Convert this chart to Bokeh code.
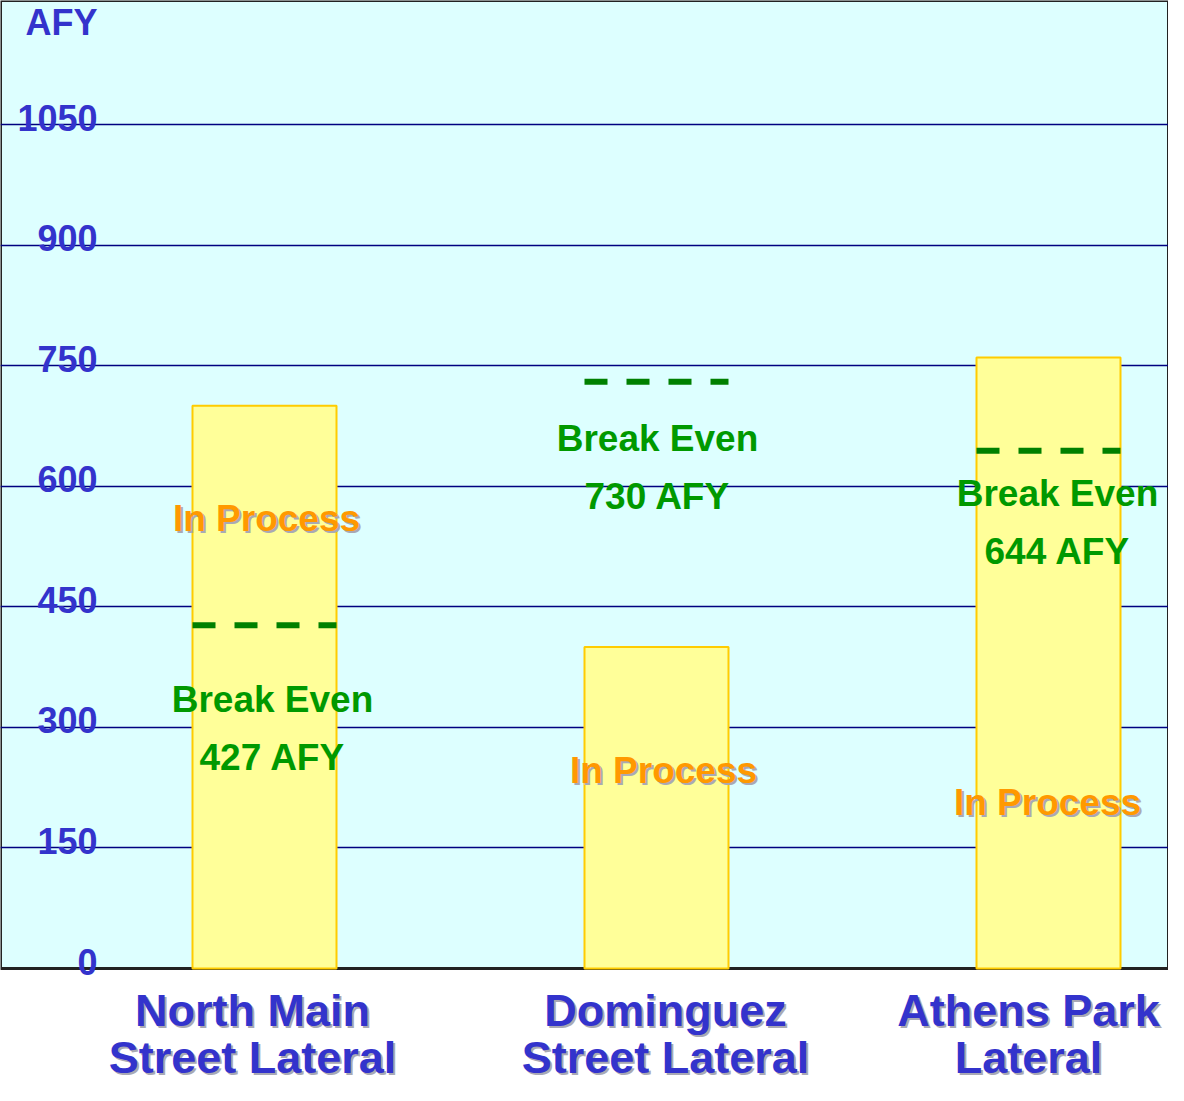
from bokeh.plotting import figure
from bokeh.models import Range1d, FixedTicker, ColumnDataSource
from bokeh.core.properties import value
from bokeh.embed import file_html
from bokeh.resources import INLINE

# ---------------- data ----------------
categories = ["North Main\nStreet Lateral", "Dominguez\nStreet Lateral", "Athens Park\nLateral"]
in_process = [700, 400, 760]          # bar heights (AFY)
break_even = [427, 730, 644]          # break-even levels (AFY)
break_even_labels = ["427 AFY", "730 AFY", "644 AFY"]
bar_label = "In Process"
break_label = "Break Even"
y_ticks = [0, 150, 300, 450, 600, 750, 900, 1050]
y_unit = "AFY"

# ---------------- layout / style ----------------
W, H = 1168, 1085
PX_PER_CAT = 392.0
FIRST_CAT_PX = 264.0
ZERO_PX = 968.0
PX_PER_UNIT = (968.0 - 124.0) / 1050.0
BAR_W = 144 / PX_PER_CAT

FONT = value("Liberation Sans")
BLUE = "#3333CC"
GREEN_TXT = "#009900"
ORANGE = "#FF9900"
SHADOW = "#A9A9B4"

be_dx = [8, 1, 9]
be_dy = [74, 57, 43]
ip_dx = [2, 7, -1]
ip_y = [560, 246, 207]
cat_dx = [-12, 9, -20]

xs = list(range(len(categories)))

x_range = Range1d(-FIRST_CAT_PX / PX_PER_CAT, (W - FIRST_CAT_PX) / PX_PER_CAT)
y_range = Range1d(-(H - ZERO_PX) / PX_PER_UNIT, ZERO_PX / PX_PER_UNIT)

p = figure(width=W, height=H, x_range=x_range, y_range=y_range,
           output_backend="svg", toolbar_location=None, min_border=0,
           x_axis_location=None, y_axis_location=None,
           outline_line_color=None, background_fill_color="white",
           border_fill_color="white")

p.xgrid.visible = False
p.ygrid.ticker = FixedTicker(ticks=y_ticks[1:])
p.ygrid.grid_line_color = "#000080"
p.ygrid.grid_line_width = 1.5

# plot panel (light cyan) from 0 up to the top
p.quad(left=[x_range.start], right=[x_range.end], bottom=[y_ticks[0]], top=[y_range.end],
       fill_color="#DDFFFF", line_color="#222222", line_width=3, level="image")

# bars
src = ColumnDataSource(dict(x=xs, top=in_process, be=break_even,
                            x0=[x - BAR_W / 2 for x in xs], x1=[x + BAR_W / 2 for x in xs],
                            be_lab=break_even_labels, be_dx=be_dx, be_dy=be_dy,
                            be_dy2=[d + 58 for d in be_dy],
                            ip_dx=ip_dx, ip_dx_s=[d + 2 for d in ip_dx], ip_y=ip_y))
p.vbar(x="x", top="top", bottom=0, width=BAR_W, source=src,
       fill_color="#FFFF99", line_color="#FFCC00", line_width=2)

# break-even dashed lines
p.segment(x0="x0", x1="x1", y0="be", y1="be", source=src,
          line_color="#008000", line_width=6, line_dash="23 19", line_cap="butt")

common = dict(text_font=FONT, text_font_style="bold", text_align="center",
              text_baseline="middle")

# break-even labels
p.text(x="x", y="be", text=value(break_label), x_offset="be_dx", y_offset="be_dy",
       source=src, text_font_size="37px", text_color=GREEN_TXT, **common)
p.text(x="x", y="be", text="be_lab", x_offset="be_dx", y_offset="be_dy2",
       source=src, text_font_size="37px", text_color=GREEN_TXT, **common)

# "In Process" labels with shadow
p.text(x="x", y="ip_y", text=value(bar_label), x_offset="ip_dx_s",
       y_offset=2, source=src, text_font_size="37px", text_color=SHADOW, **common)
p.text(x="x", y="ip_y", text=value(bar_label), x_offset="ip_dx",
       source=src, text_font_size="37px", text_color=ORANGE, **common)

# y tick labels inside the panel
tick_src = ColumnDataSource(dict(x=[x_range.start] * len(y_ticks), y=y_ticks,
                                 t=[str(t) for t in y_ticks]))
p.text(x="x", y="y", text="t", source=tick_src, x_offset=97, y_offset=-7,
       text_font=FONT, text_font_style="bold", text_font_size="36px",
       text_color=BLUE, text_align="right", text_baseline="alphabetic")
p.text(x=[x_range.start], y=[y_range.end], text=[y_unit], x_offset=25, y_offset=22,
       text_font=FONT, text_font_style="bold", text_font_size="36px",
       text_color=BLUE, text_align="left", text_baseline="middle")

# category labels (two lines each) with shadow
line1 = [c.split("\n")[0] for c in categories]
line2 = [c.split("\n")[1] for c in categories]
cat_src = ColumnDataSource(dict(x=xs, y=[0] * len(xs), l1=line1, l2=line2,
                                dx=cat_dx, dx_s=[d + 2 for d in cat_dx]))
for txt, dy in (("l1", 42), ("l2", 89)):
    p.text(x="x", y="y", text=txt, x_offset="dx_s", y_offset=dy + 2, source=cat_src,
           text_font_size="45px", text_color=SHADOW, **common)
    p.text(x="x", y="y", text=txt, x_offset="dx", y_offset=dy, source=cat_src,
           text_font_size="45px", text_color=BLUE, **common)

open("out.html", "w").write(file_html(p, INLINE))
